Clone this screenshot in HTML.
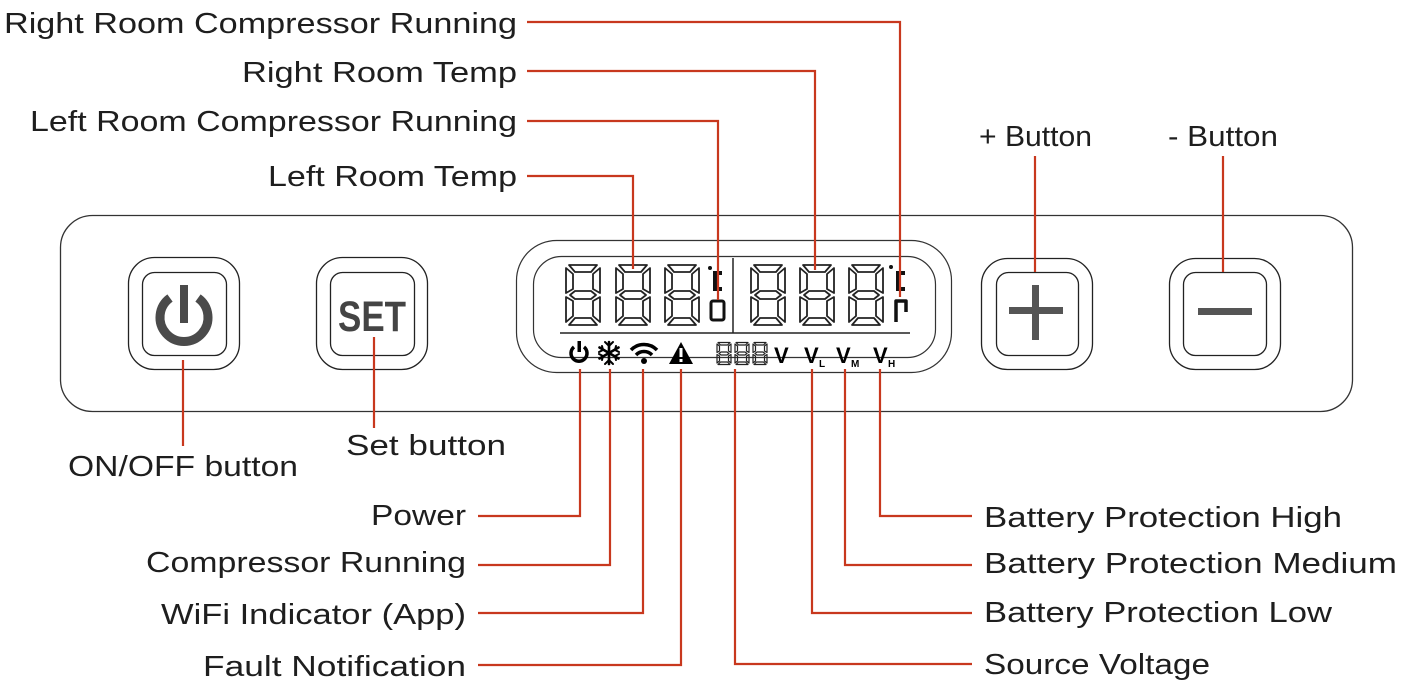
<!DOCTYPE html>
<html><head><meta charset="utf-8"><style>
html,body{margin:0;padding:0;background:#fff;}
svg{display:block;}
text{font-family:"Liberation Sans",sans-serif;fill:#1e1e1e;}
</style></head><body>
<svg width="1422" height="689" viewBox="0 0 1422 689" xmlns="http://www.w3.org/2000/svg">
<defs>
<g id="dig" fill="none" stroke="#222" stroke-width="1.8" stroke-linejoin="round">
  <polygon points="6,1 34,1 28,8 12,8"/>
  <polygon points="7,31 12,27 28,27 33,31 28,35 12,35"/>
  <polygon points="6,61 34,61 28,54 12,54"/>
  <polygon points="3,4 10,10 10,25 3,29"/>
  <polygon points="37,4 30,10 30,25 37,29"/>
  <polygon points="3,33 10,37 10,52 3,58"/>
  <polygon points="37,33 30,37 30,52 37,58"/>
</g>
<g id="sdig" fill="none" stroke="#222" stroke-width="1.2" stroke-linejoin="round">
  <polygon points="2,0.5 14,0.5 11.5,3 4.5,3"/>
  <polygon points="3,11.5 5,10 11,10 13,11.5 11,13 5,13"/>
  <polygon points="2,22.5 14,22.5 11.5,20 4.5,20"/>
  <polygon points="1,2 3.5,4 3.5,9 1,10.5"/>
  <polygon points="15,2 12.5,4 12.5,9 15,10.5"/>
  <polygon points="1,12.5 3.5,14 3.5,19 1,21"/>
  <polygon points="15,12.5 12.5,14 12.5,19 15,21"/>
</g>
</defs>

<rect x="60.5" y="215.5" width="1292" height="196" rx="32" fill="none" stroke="#333" stroke-width="1.3"/>

<g fill="none" stroke="#222" stroke-width="1.3">
  <rect x="128.5" y="257.5" width="111" height="112" rx="26"/>
  <rect x="142.5" y="272.5" width="84" height="83" rx="12"/>
  <rect x="316.5" y="257.5" width="111" height="112" rx="26"/>
  <rect x="330.5" y="272.5" width="84" height="83" rx="12"/>
  <rect x="981.5" y="258.5" width="111" height="111" rx="26"/>
  <rect x="996.5" y="272.5" width="82" height="83" rx="12"/>
  <rect x="1169.5" y="258.5" width="111" height="111" rx="26"/>
  <rect x="1183.5" y="272.5" width="83" height="83" rx="12"/>
</g>
<path d="M170,298 A24,24 0 1 0 198,298" fill="none" stroke="#4a4a4a" stroke-width="9"/>
<rect x="180" y="285" width="8" height="38" fill="#4a4a4a"/>
<text x="372" y="331" font-size="43" font-weight="bold" text-anchor="middle" style="fill:#444" textLength="68" lengthAdjust="spacingAndGlyphs">SET</text>
<rect x="1009" y="307" width="54" height="7" fill="#555"/>
<rect x="1032" y="285" width="7" height="55" fill="#555"/>
<rect x="1198" y="308" width="54" height="7" fill="#555"/>

<rect x="516.5" y="240.5" width="435" height="132" rx="40" fill="none" stroke="#333" stroke-width="1.2"/>
<rect x="533.5" y="256.5" width="402" height="101" rx="28" fill="none" stroke="#333" stroke-width="1.2"/>
<use href="#dig" x="563" y="264"/>
<use href="#dig" x="613" y="264"/>
<use href="#dig" x="662" y="264"/>
<use href="#dig" x="748" y="264"/>
<use href="#dig" x="797" y="264"/>
<use href="#dig" x="846" y="264"/>
<line x1="733" y1="258" x2="733" y2="333" stroke="#222" stroke-width="1.5"/>
<line x1="560" y1="333" x2="910" y2="333" stroke="#222" stroke-width="1.5"/>
<circle cx="710" cy="268" r="2" fill="#111"/>
<path d="M722,273 L715,273 L715,289 L722,289" fill="none" stroke="#111" stroke-width="4"/>
<rect x="711" y="301" width="13" height="19" rx="2" fill="none" stroke="#111" stroke-width="3"/>
<circle cx="891" cy="267" r="2" fill="#111"/>
<path d="M905,273 L898,273 L898,289 L905,289" fill="none" stroke="#111" stroke-width="4"/>
<path d="M896,322 L896,301 L906,301 L906,312" fill="none" stroke="#111" stroke-width="3.5" stroke-linejoin="round"/>

<path d="M574,347 A8,8 0 1 0 584,347" fill="none" stroke="#000" stroke-width="3.5"/>
<rect x="577.5" y="341" width="3.5" height="11" fill="#000"/>
<g stroke="#000" stroke-width="2.6" stroke-linecap="round" fill="none">
  <line x1="609" y1="342" x2="609" y2="364"/>
  <line x1="599.5" y1="347.5" x2="618.5" y2="358.5"/>
  <line x1="599.5" y1="358.5" x2="618.5" y2="347.5"/>
  <polyline points="605,342 609,346 613,342" stroke-width="2"/>
  <polyline points="605,364 609,360 613,364" stroke-width="2"/>
  <polyline points="599,352 603,350 602,346" stroke-width="2"/>
  <polyline points="619,352 615,350 616,346" stroke-width="2"/>
  <polyline points="599,354 603,356 602,360" stroke-width="2"/>
  <polyline points="619,354 615,356 616,360" stroke-width="2"/>
</g>
<g fill="none" stroke="#000" stroke-width="3.5">
  <path d="M631,350 A18,18 0 0 1 657,350"/>
  <path d="M636,355 A11,11 0 0 1 652,355"/>
</g>
<circle cx="644" cy="361" r="3" fill="#000"/>
<polygon points="681,342 693,364 669,364" fill="#000"/>
<rect x="679.5" y="348" width="3" height="9" fill="#fff"/>
<rect x="679.5" y="359" width="3" height="3" fill="#fff"/>
<use href="#sdig" x="716" y="342"/>
<use href="#sdig" x="734" y="342"/>
<use href="#sdig" x="752" y="342"/>
<text x="774" y="363" font-size="22" font-weight="bold" style="fill:#000">V</text>
<text x="804" y="363" font-size="22" font-weight="bold" style="fill:#000">V</text>
<text x="819" y="367" font-size="10" font-weight="bold" style="fill:#000">L</text>
<text x="836" y="363" font-size="22" font-weight="bold" style="fill:#000">V</text>
<text x="851" y="367" font-size="10" font-weight="bold" style="fill:#000">M</text>
<text x="873" y="363" font-size="22" font-weight="bold" style="fill:#000">V</text>
<text x="888" y="367" font-size="10" font-weight="bold" style="fill:#000">H</text>

<g fill="none" stroke="#c8381e" stroke-width="2.2">
  <polyline points="527,22 900,22 900,297"/>
  <polyline points="527,71 815,71 815,270"/>
  <polyline points="527,121 718,121 718,300"/>
  <polyline points="527,176 633,176 633,269"/>
  <line x1="1035" y1="156" x2="1035" y2="272"/>
  <line x1="1223" y1="156" x2="1223" y2="272"/>
  <line x1="183" y1="360" x2="183" y2="446"/>
  <line x1="374" y1="337" x2="374" y2="428"/>
  <polyline points="580,369 580,516 478,516"/>
  <polyline points="610,369 610,565 478,565"/>
  <polyline points="643,369 643,613 478,613"/>
  <polyline points="681,369 681,665 478,665"/>
  <polyline points="735,369 735,664 972,664"/>
  <polyline points="812,369 812,613 972,613"/>
  <polyline points="845,369 845,565 972,565"/>
  <polyline points="880,369 880,516 972,516"/>
</g>

<g font-size="29">
  <text x="4" y="33" textLength="513" lengthAdjust="spacingAndGlyphs">Right Room Compressor Running</text>
  <text x="242" y="82" textLength="275" lengthAdjust="spacingAndGlyphs">Right Room Temp</text>
  <text x="30" y="131" textLength="487" lengthAdjust="spacingAndGlyphs">Left Room Compressor Running</text>
  <text x="268" y="186" textLength="249" lengthAdjust="spacingAndGlyphs">Left Room Temp</text>
  <text x="979" y="146" textLength="113" lengthAdjust="spacingAndGlyphs">+ Button</text>
  <text x="1168" y="146" textLength="110" lengthAdjust="spacingAndGlyphs">- Button</text>
  <text x="68" y="476" textLength="230" lengthAdjust="spacingAndGlyphs">ON/OFF button</text>
  <text x="346" y="455" textLength="160" lengthAdjust="spacingAndGlyphs">Set button</text>
  <text x="371" y="525" textLength="95" lengthAdjust="spacingAndGlyphs">Power</text>
  <text x="146" y="572" textLength="320" lengthAdjust="spacingAndGlyphs">Compressor Running</text>
  <text x="161" y="624" textLength="305" lengthAdjust="spacingAndGlyphs">WiFi Indicator (App)</text>
  <text x="203" y="676" textLength="263" lengthAdjust="spacingAndGlyphs">Fault Notification</text>
  <text x="984" y="527" textLength="358" lengthAdjust="spacingAndGlyphs">Battery Protection High</text>
  <text x="984" y="573" textLength="413" lengthAdjust="spacingAndGlyphs">Battery Protection Medium</text>
  <text x="984" y="622" textLength="348" lengthAdjust="spacingAndGlyphs">Battery Protection Low</text>
  <text x="984" y="674" textLength="226" lengthAdjust="spacingAndGlyphs">Source Voltage</text>
</g>
</svg>
</body></html>
